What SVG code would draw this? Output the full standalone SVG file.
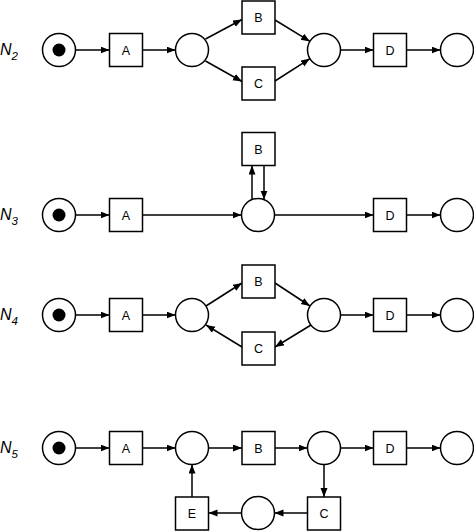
<svg xmlns="http://www.w3.org/2000/svg" width="474" height="531" viewBox="0 0 474 531">
<style>
.p{fill:#fff;stroke:#000;stroke-width:1.5}
.t{fill:#fff;stroke:#000;stroke-width:1.5}
.tk{fill:#000}
.lb{font-family:"Liberation Sans",Arial,sans-serif;font-size:12.5px;text-anchor:middle;fill:#000}
.nl{font-family:"Liberation Sans",Arial,sans-serif;font-style:italic;font-size:16px;fill:#000}
.ns{font-size:11.5px}
.c line{stroke:#000;stroke-width:1.5;marker-end:url(#ah)}
</style>
<defs>
<marker id="ah" markerUnits="userSpaceOnUse" markerWidth="10" markerHeight="8" refX="9" refY="3.5" orient="auto">
<path d="M0,0 L9,3.5 L0,7 z" fill="#000"/>
</marker>
</defs>
<rect width="474" height="531" fill="#fff"/>

<!-- labels -->
<g id="labels">
<text class="nl" x="0" y="55">N<tspan class="ns" dy="5">2</tspan></text>
<text class="nl" x="0" y="220">N<tspan class="ns" dy="5">3</tspan></text>
<text class="nl" x="0" y="320">N<tspan class="ns" dy="5">4</tspan></text>
<text class="nl" x="0" y="453">N<tspan class="ns" dy="5">5</tspan></text>
</g>

<!-- connectors -->
<g id="connectors" class="c">
<!-- N2 -->
<line x1="75.5" y1="50" x2="109.5" y2="50"/>
<line x1="142.5" y1="50" x2="175.5" y2="50"/>
<line x1="205.5" y1="39" x2="242" y2="19.5"/>
<line x1="205.5" y1="61" x2="242" y2="81.5"/>
<line x1="275" y1="20" x2="310" y2="41.4"/>
<line x1="275" y1="81" x2="310" y2="58.6"/>
<line x1="340.5" y1="50" x2="373.5" y2="50"/>
<line x1="406.5" y1="50" x2="440.5" y2="50"/>
<!-- N3 -->
<line x1="75.5" y1="215" x2="109.5" y2="215"/>
<line x1="142.5" y1="215" x2="241.5" y2="215"/>
<line x1="252" y1="199.6" x2="252" y2="165.5"/>
<line x1="264" y1="165.5" x2="264" y2="199.6"/>
<line x1="274.5" y1="215" x2="373.5" y2="215"/>
<line x1="406.5" y1="215" x2="440.5" y2="215"/>
<!-- N4 -->
<line x1="75.5" y1="315" x2="109.5" y2="315"/>
<line x1="142.5" y1="315" x2="175.5" y2="315"/>
<line x1="206" y1="306" x2="242" y2="283"/>
<line x1="275" y1="283" x2="310" y2="306"/>
<line x1="311" y1="325" x2="275" y2="347"/>
<line x1="242" y1="347" x2="206" y2="325"/>
<line x1="340.5" y1="315" x2="373.5" y2="315"/>
<line x1="406.5" y1="315" x2="440.5" y2="315"/>
<!-- N5 -->
<line x1="75.5" y1="448" x2="109.5" y2="448"/>
<line x1="142.5" y1="448" x2="175.5" y2="448"/>
<line x1="208.5" y1="448" x2="242" y2="448"/>
<line x1="275" y1="448" x2="307.5" y2="448"/>
<line x1="340.5" y1="448" x2="373.5" y2="448"/>
<line x1="406.5" y1="448" x2="440.5" y2="448"/>
<line x1="324" y1="464.5" x2="324" y2="497"/>
<line x1="307.5" y1="513" x2="274.5" y2="513"/>
<line x1="241.5" y1="513" x2="208.5" y2="513"/>
<line x1="192" y1="497" x2="192" y2="464.5"/>
</g>

<!-- N2 nodes -->
<g id="n2-p1"><circle class="p" cx="59" cy="50" r="16.5"/><circle class="tk" cx="59" cy="50" r="6.5"/></g>
<g id="n2-A"><rect class="t" x="109.5" y="33.5" width="33" height="33"/><text class="lb" x="126" y="54.5">A</text></g>
<g id="n2-p2"><circle class="p" cx="192" cy="50" r="16.5"/></g>
<g id="n2-B"><rect class="t" x="242" y="1" width="33" height="33"/><text class="lb" x="258.5" y="22">B</text></g>
<g id="n2-C"><rect class="t" x="242" y="67" width="33" height="33"/><text class="lb" x="258.5" y="88">C</text></g>
<g id="n2-p3"><circle class="p" cx="324" cy="50" r="16.5"/></g>
<g id="n2-D"><rect class="t" x="373.5" y="33.5" width="33" height="33"/><text class="lb" x="390" y="54.5">D</text></g>
<g id="n2-p4"><circle class="p" cx="457" cy="50" r="16.5"/></g>

<!-- N3 nodes -->
<g id="n3-p1"><circle class="p" cx="59" cy="215" r="16.5"/><circle class="tk" cx="59" cy="215" r="6.5"/></g>
<g id="n3-A"><rect class="t" x="109.5" y="198.5" width="33" height="33"/><text class="lb" x="126" y="219.5">A</text></g>
<g id="n3-p2"><circle class="p" cx="258" cy="215" r="16.5"/></g>
<g id="n3-B"><rect class="t" x="242" y="132.5" width="33" height="33"/><text class="lb" x="258.5" y="153.5">B</text></g>
<g id="n3-D"><rect class="t" x="373.5" y="198.5" width="33" height="33"/><text class="lb" x="390" y="219.5">D</text></g>
<g id="n3-p3"><circle class="p" cx="457" cy="215" r="16.5"/></g>

<!-- N4 nodes -->
<g id="n4-p1"><circle class="p" cx="59" cy="315" r="16.5"/><circle class="tk" cx="59" cy="315" r="6.5"/></g>
<g id="n4-A"><rect class="t" x="109.5" y="298.5" width="33" height="33"/><text class="lb" x="126" y="319.5">A</text></g>
<g id="n4-p2"><circle class="p" cx="192" cy="315" r="16.5"/></g>
<g id="n4-B"><rect class="t" x="242" y="265" width="33" height="33"/><text class="lb" x="258.5" y="286">B</text></g>
<g id="n4-C"><rect class="t" x="242" y="332" width="33" height="33"/><text class="lb" x="258.5" y="353">C</text></g>
<g id="n4-p3"><circle class="p" cx="324" cy="315" r="16.5"/></g>
<g id="n4-D"><rect class="t" x="373.5" y="298.5" width="33" height="33"/><text class="lb" x="390" y="319.5">D</text></g>
<g id="n4-p4"><circle class="p" cx="457" cy="315" r="16.5"/></g>

<!-- N5 nodes -->
<g id="n5-p1"><circle class="p" cx="59" cy="448" r="16.5"/><circle class="tk" cx="59" cy="448" r="6.5"/></g>
<g id="n5-A"><rect class="t" x="109.5" y="431.5" width="33" height="33"/><text class="lb" x="126" y="452.5">A</text></g>
<g id="n5-p2"><circle class="p" cx="192" cy="448" r="16.5"/></g>
<g id="n5-B"><rect class="t" x="242" y="431.5" width="33" height="33"/><text class="lb" x="258.5" y="452.5">B</text></g>
<g id="n5-p3"><circle class="p" cx="324" cy="448" r="16.5"/></g>
<g id="n5-D"><rect class="t" x="373.5" y="431.5" width="33" height="33"/><text class="lb" x="390" y="452.5">D</text></g>
<g id="n5-p4"><circle class="p" cx="457" cy="448" r="16.5"/></g>
<g id="n5-C"><rect class="t" x="307.5" y="497" width="33" height="33"/><text class="lb" x="324" y="518">C</text></g>
<g id="n5-p5"><circle class="p" cx="258" cy="513" r="16.5"/></g>
<g id="n5-E"><rect class="t" x="175.5" y="497" width="33" height="33"/><text class="lb" x="192" y="518">E</text></g>
</svg>
